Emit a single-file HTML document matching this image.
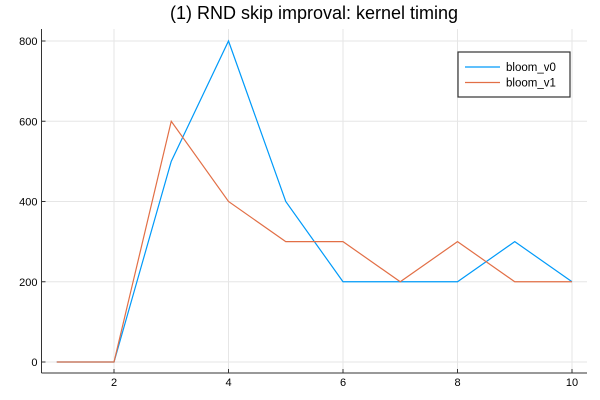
<!DOCTYPE html>
<html><head><meta charset="utf-8"><style>
body{margin:0;background:#fff}
svg{display:block;font-family:"Liberation Sans","DejaVu Sans",sans-serif}
</style></head><body>
<svg id="chart" width="600" height="400">
<text x="314" y="19" text-anchor="middle" font-size="18">(1) RND skip improval: kernel timing</text>
<g id="grid"></g>
<g id="axes"></g>
<g id="series"></g>
<g>
<rect x="458" y="52" width="112" height="45" fill="#fff" stroke="#333" stroke-width="1.2"/>
<line x1="465" y1="67" x2="500" y2="67" stroke="#009af9" stroke-width="1.2"/>
<text x="506" y="71" font-size="11.5">bloom_v0</text>
<line x1="465" y1="82.5" x2="500" y2="82.5" stroke="#e26f46" stroke-width="1.2"/>
<text x="506" y="86.5" font-size="11.5">bloom_v1</text>
</g>
</svg>
<script>
const xValues=[1,2,3,4,5,6,7,8,9,10];
const bloomV0=[0,0,500,800,400,200,200,200,300,200];
const bloomV1=[0,0,600,400,300,300,200,300,200,200];
const xTicks=[2,4,6,8,10];
const yTicks=[0,200,400,600,800];
const NS="http://www.w3.org/2000/svg";
const L=41.5,R=587,T=29,B=373;
function xs(v){return 114+(v-2)*57.25;}
function ys(v){return 362-v*0.40125;}
function mk(tag,attrs,parent){const e=document.createElementNS(NS,tag);for(const k in attrs)e.setAttribute(k,attrs[k]);parent.appendChild(e);return e;}
const grid=document.getElementById('grid'),axes=document.getElementById('axes'),series=document.getElementById('series');
xTicks.forEach(t=>{
 const g=mk('line',{x1:xs(t),x2:xs(t),y1:T,y2:B,stroke:'#e6e6e6','stroke-width':1},grid);
 
 
 const tk=mk('line',{x1:xs(t),x2:xs(t),y1:B,y2:B-4,stroke:'#333'},axes);
 
 
 const tx=mk('text',{x:xs(t),y:B+13,'text-anchor':'middle','font-size':11},axes);
 tx.textContent=t;
 
 
});
yTicks.forEach(t=>{
 const g=mk('line',{x1:L,x2:R,y1:ys(t),y2:ys(t),stroke:'#e6e6e6','stroke-width':1},grid);
 
 
 const tk=mk('line',{x1:L,x2:L+4,y1:ys(t),y2:ys(t),stroke:'#333'},axes);
 
 
 const tx=mk('text',{x:L-4,y:ys(t)+4,'text-anchor':'end','font-size':11},axes);
 tx.textContent=t;
 
 
});
const xa=mk('line',{x1:L,x2:R,y1:B,y2:B,stroke:'#333','stroke-width':1},axes);


const ya=mk('line',{x1:L,x2:L,y1:T,y2:B,stroke:'#333','stroke-width':1},axes);


function draw(vals,color,name){
 const p=mk('polyline',{points:vals.map((v,i)=>xs(xValues[i])+','+ys(v)).join(' '),fill:'none',stroke:color,'stroke-width':1.2},series);
 
 
}
draw(bloomV0,'#009af9','series-bloom-v0');
draw(bloomV1,'#e26f46','series-bloom-v1');
</script>
</body></html>
